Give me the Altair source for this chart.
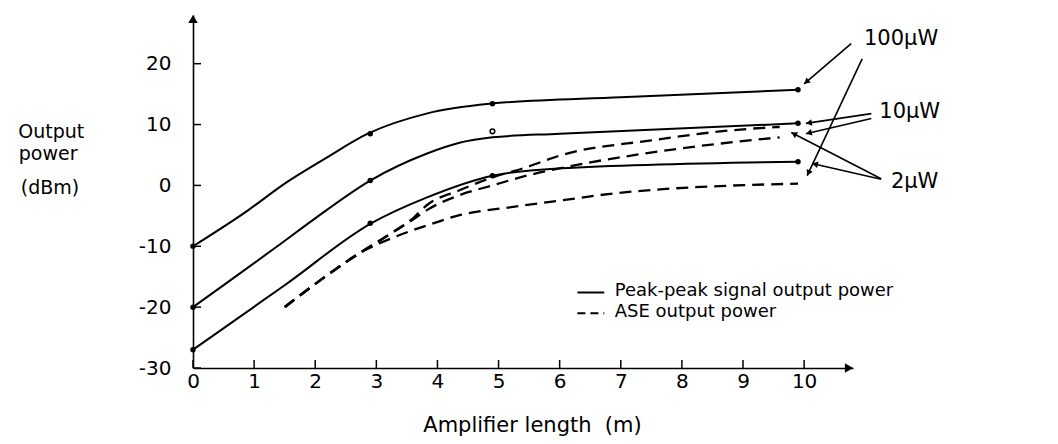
import math
import altair as alt
import pandas as pd

FONT = "DejaVu Sans"

# ---------------- data ----------------
x_ticks = [0, 1, 2, 3, 4, 5, 6, 7, 8, 9, 10]
y_ticks = [-30, -20, -10, 0, 10, 20]

# peak-peak signal output power (solid)
sig100_x = [0, 0.9, 1.5, 2.16, 2.86, 3.82, 4.85, 7.0, 9.9]
sig100_y = [-10, -4.1, 0.3, 4.4, 8.5, 11.8, 13.4, 14.5, 15.7]
sig10_x = [0, 0.57, 1.42, 1.96, 2.9, 3.82, 4.36, 4.9, 6.0, 9.9]
sig10_y = [-20, -15.9, -9.7, -5.7, 0.8, 5.2, 7.0, 7.9, 8.5, 10.2]
sig2_x = [0, 1.5, 2.92, 3.82, 4.9, 6.0, 9.9]
sig2_y = [-27, -16.4, -6.2, -2.0, 1.6, 2.8, 3.9]

# ASE output power (dashed)
ase2_x = [1.5, 2.08, 2.73, 3.27, 3.6, 3.82, 4.36, 4.9, 5.46, 6.0, 7.5, 9.1, 9.6]
ase2_y = [-20, -15.6, -11.1, -7.7, -5.4, -3.3, -0.8, 1.3, 3.0, 4.9, 7.4, 9.3, 9.6]
ase10_x = [1.5, 2.08, 2.73, 3.27, 3.6, 3.82, 4.36, 4.9, 5.46, 6.0, 8.0, 9.6]
ase10_y = [-20, -15.6, -11.1, -7.7, -5.6, -4.1, -1.6, 0.0, 1.6, 2.8, 6.1, 7.9]
ase100_x = [1.5, 2.08, 2.73, 3.27, 3.82, 4.36, 5.18, 6.0, 6.9, 9.9]
ase100_y = [-20, -15.6, -11.1, -8.6, -6.6, -4.9, -3.6, -2.5, -1.3, 0.3]

# measured points (filled dots) and the one open dot
dot_x = [0, 2.9, 4.9, 9.9, 0, 2.9, 9.9, 0, 2.9, 4.9, 9.9]
dot_y = [-10, 8.5, 13.4, 15.7, -20, 0.8, 10.2, -27, -6.2, 1.6, 3.9]
open_x = [4.9]
open_y = [8.9]

# input power labels and their pointer arrows
lab_text = ["100\u03bcW", "10\u03bcW", "2\u03bcW"]
lab_x = [10.98, 11.23, 11.42]
lab_y = [24.1, 12.1, 0.5]
arr_x1 = [10.77, 10.95, 11.10, 11.10, 11.26, 11.26]
arr_y1 = [23.3, 20.8, 11.8, 11.0, 1.1, 1.0]
arr_x2 = [10.00, 10.05, 10.03, 10.03, 9.79, 10.13]
arr_y2 = [16.7, 1.6, 10.2, 8.5, 8.7, 3.6]

# legend
leg_text = ["Peak-peak signal output power", "ASE output power"]
leg_x1 = [6.29, 6.29]
leg_x2 = [6.73, 6.73]
leg_line_y = [-17.6, -21.0]
leg_text_x = [6.9, 6.9]
leg_text_y = [-17.3, -20.8]

# y axis title lines
yt_text = ["Output", "power", "(dBm)"]
yt_x = [-2.32, -2.37, -2.34]
yt_y = [8.8, 5.2, -0.5]

x_title = "Amplifier length\u00a0 (m)"

# ---------------- layout ----------------
W, H = 660, 353
XD = [0, 10.8]
YD = [-30, 28]
SX = W / (XD[1] - XD[0])
SY = H / (YD[1] - YD[0])

xs = alt.Scale(domain=XD, nice=False, zero=False)
ys = alt.Scale(domain=YD, nice=False, zero=False)

xaxis = alt.Axis(values=x_ticks, grid=False, ticks=False, tickSize=0, domain=True,
                 domainColor="black", domainWidth=1.6, labelFont=FONT, labelFontSize=20,
                 labelColor="black", labelPadding=3, labelFlush=False,
                 title=x_title, titleFont=FONT, titleFontSize=21, titleFontWeight="normal",
                 titleColor="black", titleX=339, titleY=57, titleBaseline="middle")
yaxis = alt.Axis(values=y_ticks, grid=False, ticks=False, tickSize=0, domain=True,
                 domainColor="black", domainWidth=1.6, labelFont=FONT, labelFontSize=20,
                 labelColor="black", labelPadding=22, labelFlush=False, title="",
                 labelExpr="replace(datum.label, '\u2212', '-')")


def X(f="x"):
    return alt.X(f"{f}:Q", scale=xs, axis=xaxis)


def Y(f="y"):
    return alt.Y(f"{f}:Q", scale=ys, axis=yaxis)


def series(xv, yv, name):
    return pd.DataFrame({"x": xv, "y": yv, "s": name})


sig_df = pd.concat([series(sig100_x, sig100_y, "100"), series(sig10_x, sig10_y, "10"),
                    series(sig2_x, sig2_y, "2")])
ase_df = pd.concat([series(ase2_x, ase2_y, "2"), series(ase10_x, ase10_y, "10"),
                    series(ase100_x, ase100_y, "100")])

signal = alt.Chart(sig_df).mark_line(color="black", strokeWidth=2, interpolate="monotone").encode(
    x=X(), y=Y(), detail="s:N")
ase = alt.Chart(ase_df).mark_line(color="black", strokeWidth=2.3, strokeDash=[12, 7],
                                  interpolate="monotone").encode(x=X(), y=Y(), detail="s:N")

dots = alt.Chart(pd.DataFrame({"x": dot_x, "y": dot_y})).mark_point(
    shape="circle", filled=True, color="black", size=30, opacity=1).encode(x=X(), y=Y())
open_dot = alt.Chart(pd.DataFrame({"x": open_x, "y": open_y})).mark_point(
    shape="circle", filled=False, color="black", size=22, strokeWidth=1.5, opacity=1).encode(x=X(), y=Y())

# inward ticks
xt = alt.Chart(pd.DataFrame({"x": x_ticks})).mark_rule(color="black", strokeWidth=1.5).encode(
    x=X(), y=alt.value(H), y2=alt.value(H - 8))
yt = alt.Chart(pd.DataFrame({"y": y_ticks})).mark_rule(color="black", strokeWidth=1.5).encode(
    y=Y(), x=alt.value(0), x2=alt.value(8))


def angle(dx, dy):
    a = math.degrees(math.atan2(dx * SX, dy * SY))
    return a % 360


def head_center(xa, ya, xb, yb, back_px):
    """point back_px pixels before the tip (xb, yb) along the segment a->b"""
    dxp, dyp = (xb - xa) * SX, (yb - ya) * SY
    L = math.hypot(dxp, dyp)
    return xb - dxp / L * back_px / SX, yb - dyp / L * back_px / SY


# axis arrowheads
ax_pts = [(XD[0], YD[0] + 1, XD[0], YD[1]), (XD[1] - 1, YD[0], XD[1], YD[0])]
ax_c = [head_center(*p, 4) for p in ax_pts]
ax_df = pd.DataFrame({"x": [c[0] for c in ax_c], "y": [c[1] for c in ax_c],
                      "a": [angle(p[2] - p[0], p[3] - p[1]) for p in ax_pts]})
ax_heads = alt.Chart(ax_df).mark_point(shape="triangle-up", filled=True, color="black", size=90,
                                       opacity=1).encode(x=X(), y=Y(), angle=alt.Angle("a:Q", scale=None))

# annotation arrows
arr_df = pd.DataFrame({"x": arr_x1, "y": arr_y1, "x2": arr_x2, "y2": arr_y2})
arr_df["a"] = [angle(b - a, d - c) for a, b, c, d in zip(arr_x1, arr_x2, arr_y1, arr_y2)]
hc = [head_center(a, c, b, d, 3) for a, b, c, d in zip(arr_x1, arr_x2, arr_y1, arr_y2)]
arr_df["hx"] = [c[0] for c in hc]
arr_df["hy"] = [c[1] for c in hc]
arr_lines = alt.Chart(arr_df).mark_rule(color="black", strokeWidth=1.6).encode(
    x=X(), y=Y(), x2=alt.X2("x2:Q"), y2=alt.Y2("y2:Q"))
arr_heads = alt.Chart(arr_df).mark_point(shape="triangle-up", filled=True, color="black", size=45,
                                         opacity=1).encode(
    x=X("hx"), y=Y("hy"), angle=alt.Angle("a:Q", scale=None))

labels = alt.Chart(pd.DataFrame({"x": lab_x, "y": lab_y, "t": lab_text})).mark_text(
    align="left", baseline="middle", font=FONT, fontSize=21, color="black").encode(
    x=X(), y=Y(), text="t:N")

# legend
leg_lines = alt.Chart(pd.DataFrame({"x": leg_x1, "x2": leg_x2, "y": leg_line_y,
                                    "k": ["solid", "dash"]})).mark_rule(
    color="black", strokeWidth=2).encode(
    x=X(), x2=alt.X2("x2:Q"), y=Y(),
    strokeDash=alt.StrokeDash("k:N", scale=alt.Scale(domain=["solid", "dash"],
                                                     range=[[1, 0], [8, 5]]), legend=None))
leg_texts = alt.Chart(pd.DataFrame({"x": leg_text_x, "y": leg_text_y, "t": leg_text})).mark_text(
    align="left", baseline="middle", font=FONT, fontSize=18, color="black").encode(
    x=X(), y=Y(), text="t:N")

ytitle = alt.Chart(pd.DataFrame({"x": yt_x, "y": yt_y, "t": yt_text})).mark_text(
    align="center", baseline="middle", font=FONT, fontSize=19, color="black").encode(
    x=X(), y=Y(), text="t:N")

chart = alt.layer(signal, ase, dots, open_dot, xt, yt, ax_heads, arr_lines, arr_heads,
                  labels, leg_lines, leg_texts, ytitle).properties(
    width=W, height=H,
    background="white",
    autosize=alt.AutoSizeParams(type="none"),
    padding={"left": 185, "top": 7, "right": 197, "bottom": 72},
).configure_view(stroke=None)

chart.save("out.html", embed_options={"renderer": "svg", "actions": False})
